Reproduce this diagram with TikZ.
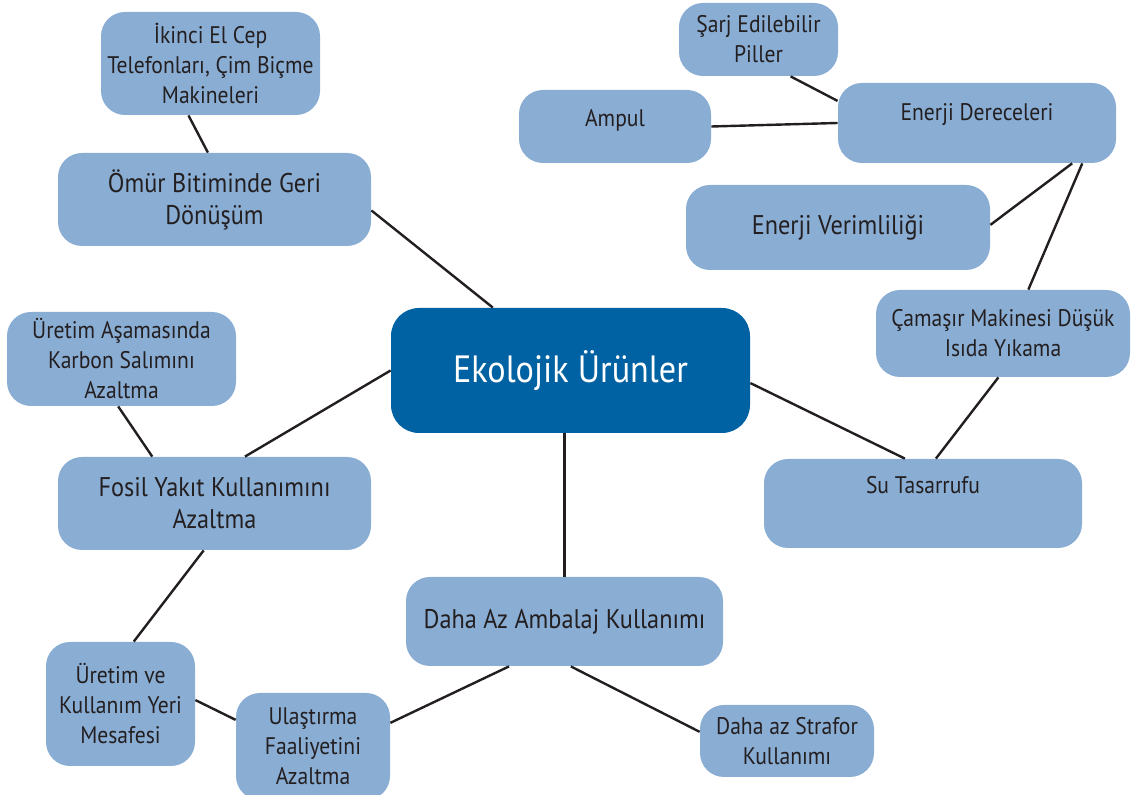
\documentclass[tikz,border=0pt]{standalone}
\usepackage{fontspec}
\setmainfont{PT Sans}[FakeStretch=0.9]
\definecolor{leafblue}{HTML}{8AADD4}
\definecolor{hubblue}{HTML}{0062A2}
\definecolor{inkgray}{HTML}{231F20}
\tikzset{leaf/.style={fill=leafblue, rounded corners=12pt, align=center,
    text=inkgray, inner sep=2pt, font=\fontsize{12}{15}\selectfont},
    bigleaf/.style={leaf, font=\fontsize{13.5}{16}\selectfont},
    hub/.style={fill=hubblue, rounded corners=14pt, align=center,
    text=white, font=\fontsize{19}{23}\selectfont},
    link/.style={line width=1.2pt, draw=inkgray},
    }

\begin{document}
\begin{tikzpicture}[x=0.5pt,y=-0.5pt]
\useasboundingbox (0,0) rectangle (1131,795);
% centre
\node[hub, minimum width=179.5pt, minimum height=62.5pt] (eko) at (570.5,370.5) {Ekolojik Ürünler};
% left side
\node[leaf, minimum width=109.5pt, minimum height=51.5pt] (ikinci) at (210.5,63.5) {İkinci El Cep\\Telefonları, Çim Biçme\\Makineleri};
\node[bigleaf, minimum width=156.5pt, minimum height=46.5pt] (omur) at (214.5,199.5) {Ömür Bitiminde Geri\\Dönüşüm};
\node[leaf, minimum width=114.5pt, minimum height=47pt] (karbon) at (121.5,359) {Üretim Aşamasında\\Karbon Salımını\\Azaltma};
\node[bigleaf, minimum width=156.5pt, minimum height=46.5pt] (fosil) at (214.5,503.5) {Fosil Yakıt Kullanımını\\Azaltma};
\node[leaf, minimum width=74.5pt, minimum height=62pt] (mesafe) at (120.5,704) {Üretim ve\\Kullanım Yeri\\Mesafesi};
\node[leaf, minimum width=77pt, minimum height=53.5pt] (ulas) at (313,746.5) {Ulaştırma\\Faaliyetini\\Azaltma};
% bottom
\node[bigleaf, minimum width=158.5pt, minimum height=44.5pt] (ambalaj) at (564.5,621.5) {Daha Az Ambalaj Kullanımı};
\node[leaf, minimum width=87pt, minimum height=36pt] (strafor) at (787,741) {Daha az Strafor\\Kullanımı};
% right side
\node[leaf, minimum width=159pt, minimum height=44.5pt, text depth=19pt] (su) at (923,503.5) {Su Tasarrufu};
\node[leaf, minimum width=127pt, minimum height=43.5pt] (camasir) at (1003,333.5) {Çamaşır Makinesi Düşük\\Isıda Yıkama};
\node[leaf, minimum width=152pt, minimum height=42.5pt, font=\fontsize{13.5}{16}\selectfont] (verim) at (838,227.5) {Enerji Verimliliği};
\node[leaf, minimum width=139pt, minimum height=40pt, text depth=11pt] (derece) at (977,123) {Enerji Dereceleri};
\node[leaf, minimum width=96pt, minimum height=36.5pt, text depth=9pt] (ampul) at (615,126.5) {Ampul};
\node[leaf, minimum width=79.5pt, minimum height=36.5pt] (sarj) at (758.5,39.5) {Şarj Edilebilir\\Piller};

\draw[link] (eko.141.7) -- (omur.-4.2);
\draw[link] (eko.180) -- (fosil.57.6);
\draw[link] (ambalaj.north) -- (ambalaj.north |- eko.south);
\draw[link] (eko.-4.9) -- (su.112);
\draw[link] (ikinci.-113.6) -- (omur.98);
\draw[link] (karbon.-94.3) -- (fosil.143.4);
\draw[link] (fosil.-103.9) -- (mesafe.78.6);
\draw[link] (mesafe.3.1) -- (ulas.161);
\draw[link] (ulas.17.7) -- (ambalaj.-141.8);
\draw[link] (ambalaj.-82.9) -- (strafor.174.7);
\draw[link] (su.74.9) -- (camasir.-96.6);
\draw[link] (camasir.60.1) -- (derece.-21.8);
\draw[link] (verim.1.3) -- (derece.-23.3);
\draw[link] (ampul.east) -- (derece.west);
\draw[link] (sarj.-49.2) -- (derece.171.4);
\end{tikzpicture}
\end{document}
